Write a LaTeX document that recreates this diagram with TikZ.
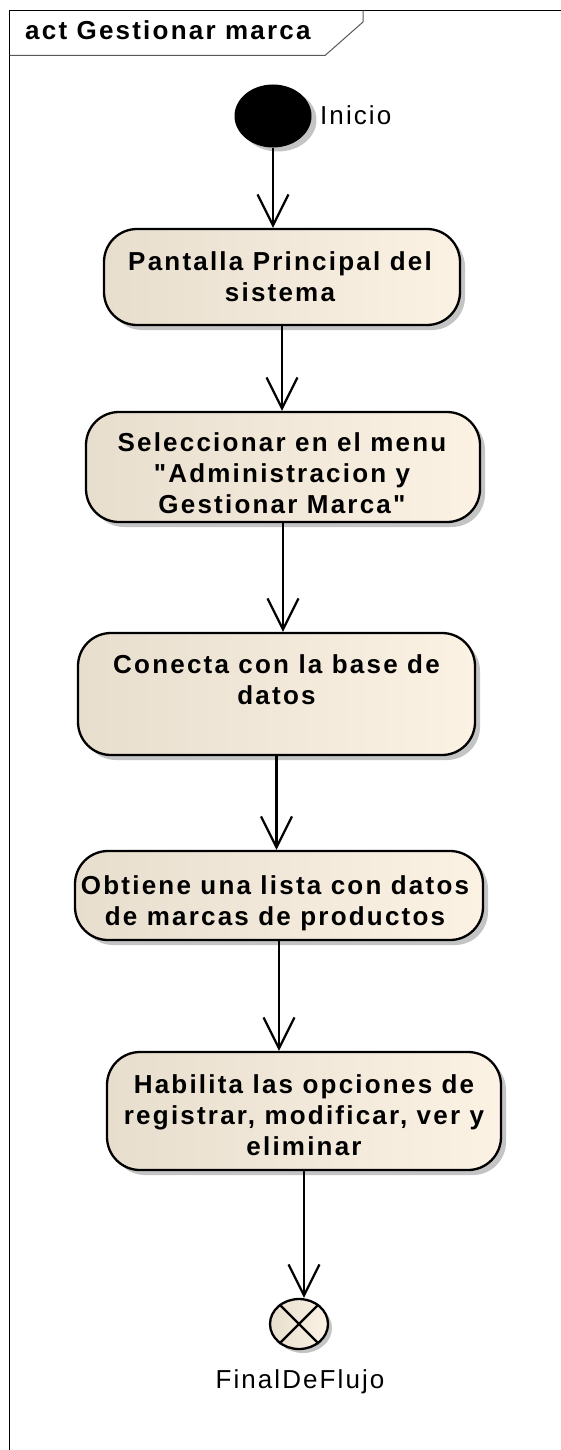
\documentclass[tikz,border=0pt]{standalone}
\usepackage{fontspec}
\setmainfont{Liberation Sans}
\newfontfamily\bxfont{Liberation Sans}[LetterSpace=8.5]
\newfontfamily\rxfont{Liberation Sans}[LetterSpace=8]
\usetikzlibrary{arrows.meta,shapes.geometric,shadows}
\definecolor{tanL}{RGB}{232,222,206}
\definecolor{tanR}{RGB}{251,242,228}
\definecolor{shd}{RGB}{196,196,196}
\tikzset{
  act/.style={draw=black, line width=2.3pt, rounded corners=33pt,
    left color=tanL, right color=tanR, inner sep=0pt,
    drop shadow={shadow xshift=5pt, shadow yshift=-5pt, fill=shd, opacity=1}},
  lbl/.style={font=\bxfont\bfseries\fontsize{26}{31}\selectfont, align=center, inner sep=0pt},
  ttl/.style={font=\bxfont\bfseries\fontsize{26}{30}\selectfont, inner sep=0pt},
  plain/.style={font=\rxfont\fontsize{26}{30}\selectfont, inner sep=0pt},
  flow/.style={line width=2.2pt, -{Straight Barb[length=31pt,width=31pt,line width=2.2pt]}},
  initnode/.style={ellipse, fill=black, minimum width=77pt, minimum height=63pt, inner sep=0pt,
    drop shadow={shadow xshift=5pt, shadow yshift=-4pt, fill=shd, opacity=1}},
  finnode/.style={ellipse, draw=black, line width=2.3pt, left color=tanL, right color=tanR,
    minimum width=58pt, minimum height=50pt, inner sep=0pt,
    drop shadow={shadow xshift=4pt, shadow yshift=-4pt, fill=shd, opacity=1}}
}
\begin{document}
\begin{tikzpicture}[x=1pt,y=-1pt]
\useasboundingbox (0,0) rectangle (561,1450);
\fill[white] (0,0) rectangle (561,1450);
% frame
\draw[line width=1.3pt] (561,10.5) -- (9.5,10.5) -- (9.5,1450);
\draw[line width=1pt, black!65] (9.5,55.5) -- (325,55.5) -- (363,22) -- (363,10.5);
\node[ttl, anchor=base west] (title) at (25,40) {act Gestionar marca};
% initial
\node[initnode] (ini) at (273,116) {};
\node[plain, anchor=base west] (lini) at (320,125) {Inicio};
% actions
\node[act, minimum width=356pt, minimum height=96pt] (b1) at (282,277) {};
\node[lbl] (t1) at (280,277) {Pantalla Principal del\\sistema};
\node[act, minimum width=394pt, minimum height=110pt] (b2) at (283,467) {};
\node[lbl] (t2) at (282,473) {Seleccionar en el menu\\"Administracion y\\Gestionar Marca"};
\node[act, minimum width=397pt, minimum height=122pt] (b3) at (276.5,694) {};
\node[lbl] (t3) at (276.5,680) {Conecta con la base de\\datos};
\node[act, minimum width=408pt, minimum height=89pt] (b4) at (279,895.5) {};
\node[lbl] (t4) at (275,903) {Obtiene una lista con datos\\de marcas de productos};
\node[act, minimum width=394pt, minimum height=118pt] (b5) at (304,1111) {};
\node[lbl] (t5) at (304,1115) {Habilita las opciones de\\registrar, modificar, ver y\\eliminar};
% final
\node[finnode] (fin) at (299,1324) {};
\draw[line width=2.3pt] (fin.135) -- (fin.-45);
\draw[line width=2.3pt] (fin.45) -- (fin.-135);
\node[plain, anchor=base] (lfin) at (300,1388) {FinalDeFlujo};
% flows
\draw[flow] (ini.south) -- (ini.south |- b1.north);
\draw[flow] (b1.south) -- (b1.south |- b2.north);
\draw[flow] (b2.south) -- (b2.south |- b3.north);
\draw[flow] (b3.south) -- (b3.south |- b4.north);
\draw[flow] (b4.south) -- (b4.south |- b5.north);
\draw[flow] (b5.south) -- (b5.south |- fin.north);
\end{tikzpicture}
\end{document}
